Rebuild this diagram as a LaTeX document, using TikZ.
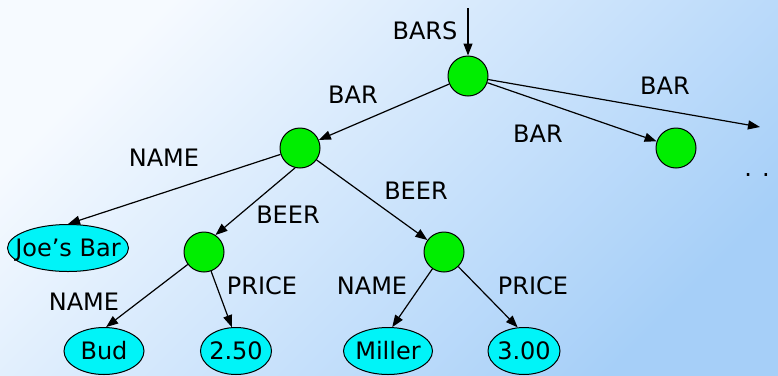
\documentclass[tikz,border=0pt]{standalone}
\usepackage{fontspec}
\setmainfont{DejaVu Sans}
\usetikzlibrary{arrows.meta,shapes.geometric}
\definecolor{bgtop}{RGB}{246,250,255}
\definecolor{bgbot}{RGB}{166,207,248}
\definecolor{elemgreen}{RGB}{0,238,0}
\definecolor{leafcyan}{RGB}{0,244,248}
\newcommand{\leaftxt}[1]{\makebox[0pt]{#1}}

\begin{document}
\begin{tikzpicture}[x=1pt, y=-1pt, font=\fontsize{24}{28}\selectfont,
	elem/.style={circle, draw, fill=elemgreen, minimum size=40pt, inner sep=0pt, line width=1pt},
	leaf/.style={ellipse, draw, fill=leafcyan, minimum height=47pt, inner sep=0pt, line width=1pt, text height=17.5pt, text depth=0pt},
	lbl/.style={inner sep=0pt, text height=17.5pt, text depth=0pt},
	link/.style={line width=1.2pt, -{Triangle[length=12pt,width=9pt]}}]
	\useasboundingbox (0,0) rectangle (778,375);
	\shade[top color=bgtop, bottom color=bgbot, shading angle=45] (0,0) rectangle (778,375);

	\node[elem] (root) at (468,76) {};
	\node[elem] (barA) at (300,148) {};
	\node[elem] (barB) at (676,148) {};
	\node[elem] (beerA) at (204,252) {};
	\node[elem] (beerB) at (444,252) {};
	\node[leaf, minimum width=121pt] (joe) at (68,248) {\leaftxt{Joe's Bar}};
	\node[leaf, minimum width=80pt] (bud) at (104,351) {\leaftxt{Bud}};
	\node[leaf, minimum width=71pt] (p250) at (236,351) {\leaftxt{2.50}};
	\node[leaf, minimum width=89pt] (miller) at (388,351) {\leaftxt{Miller}};
	\node[leaf, minimum width=72pt] (p300) at (524,351) {\leaftxt{3.00}};
	\coordinate (entry) at (468,8);
	\coordinate (more) at (760,127);
	\node[anchor=base, inner sep=0pt] (dots) at (757,176) {. .};

	\node[lbl] (lbars) at (425,31) {BARS};
	\node[lbl] (lbarA) at (353,95) {BAR};
	\node[lbl] (lbarB) at (538,134) {BAR};
	\node[lbl] (lbarC) at (665,86) {BAR};
	\node[lbl] (lname) at (164,158) {NAME};
	\node[lbl] (lbeerA) at (288,215) {BEER};
	\node[lbl] (lbeerB) at (416,191) {BEER};
	\node[lbl] (lnameA) at (84,302) {NAME};
	\node[lbl] (lpriceA) at (262,286) {PRICE};
	\node[lbl] (lnameB) at (372,286) {NAME};
	\node[lbl] (lpriceB) at (533,286) {PRICE};

	\draw[link] (entry) -- (root);
	\draw[link] (root) -- (barA);
	\draw[link] (root) -- (barB);
	\draw[link] (root) -- (more);
	\draw[link] (barA) -- (joe.90);
	\draw[link] (barA.256) -- (beerA.56);
	\draw[link] (barA) -- (beerB);
	\draw[link] (beerA) -- (bud.85);
	\draw[link] (beerA) -- (p250.100);
	\draw[link] (beerB) -- (miller.80);
	\draw[link] (beerB) -- (p300.105);
\end{tikzpicture}
\end{document}
